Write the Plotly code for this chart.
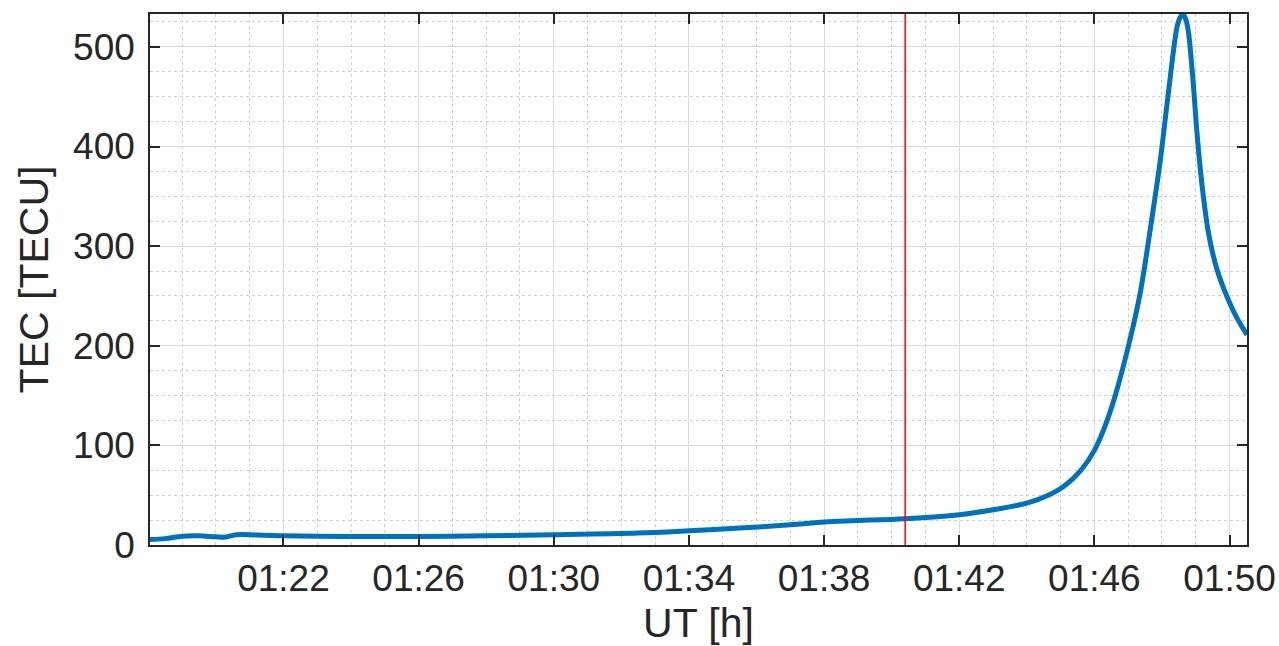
import plotly.graph_objects as go

# Total electron content along the ray path, UT time stamps (HH:MM:SS)
ut_time = [
    "01:18:03", "01:18:30", "01:19:00", "01:19:30", "01:20:00", "01:20:18",
    "01:20:36", "01:21:12", "01:22:00", "01:23:42", "01:26:00", "01:28:00",
    "01:30:00", "01:32:30", "01:34:00", "01:35:30", "01:37:00", "01:38:00",
    "01:38:48", "01:40:24", "01:42:00", "01:43:00", "01:44:00", "01:44:42",
    "01:45:06", "01:45:36", "01:46:00", "01:46:18", "01:46:36", "01:47:04",
    "01:47:22", "01:47:39", "01:47:57", "01:48:11", "01:48:26", "01:48:31",
    "01:48:37", "01:48:42", "01:48:47", "01:48:56", "01:49:02", "01:49:11",
    "01:49:23", "01:49:38", "01:49:55", "01:50:13", "01:50:31",
]
tec_tecu = [
    5.5, 6.4, 8.8, 9.2, 8.2, 8.0,
    10.3, 10.0, 9.3, 8.5, 8.6, 9.3,
    10.3, 12.0, 14.3, 17.0, 20.3, 23.0,
    24.3, 26.4, 30.4, 35.4, 42.0, 51.0,
    59.0, 75.0, 95.0, 118.0, 148.0, 208.0,
    255.0, 316.0, 386.0, 452.0, 518.0, 528.0,
    533.0, 528.0, 515.0, 460.0, 415.0, 362.0,
    312.0, 276.0, 250.0, 228.0, 211.0,
]

# Event marker time
event_time = "01:40:24"

day = "2020-01-01 "
x_vals = [day + t for t in ut_time]

x_range = [day + "01:18:03", day + "01:50:31"]
y_range = [0, 533]
x_tick0 = day + "01:22:00"
x_major_ms = 4 * 60 * 1000
x_minor_ms = 60 * 1000
y_major = 100
y_minor = 25

FONT = "Liberation Sans, Arial, Helvetica, sans-serif"
AX = "#262626"

fig = go.Figure()
fig.add_trace(go.Scatter(
    x=x_vals, y=tec_tecu, mode="lines",
    line=dict(color="#0072BD", width=5, shape="spline", smoothing=0.9),
    hoverinfo="skip", showlegend=False,
))

fig.add_shape(type="line", xref="x", yref="paper",
              x0=day + event_time, x1=day + event_time, y0=0, y1=1,
              line=dict(color="#FF0000", width=1.5), layer="above")

axis_common = dict(
    showline=True, linecolor=AX, linewidth=1.6, mirror="ticks",
    ticks="inside", ticklen=10, tickwidth=1.6, tickcolor=AX,
    showgrid=True, gridcolor="#DCDCDC", gridwidth=1,
    zeroline=False,
    tickfont=dict(family=FONT, size=37, color=AX),
)

fig.update_xaxes(
    type="date", range=x_range, tick0=x_tick0, dtick=x_major_ms,
    tickformat="%H:%M",
    minor=dict(dtick=x_minor_ms, tick0=x_tick0, showgrid=True,
               gridcolor="#CFCFCF", griddash="3px,3px", gridwidth=1, ticks=""),
    title=dict(text="UT [h]", font=dict(family=FONT, size=41, color=AX), standoff=10),
    **axis_common,
)
fig.update_yaxes(
    range=y_range, tick0=0, dtick=y_major,
    minor=dict(dtick=y_minor, tick0=0, showgrid=True,
               gridcolor="#CFCFCF", griddash="3px,3px", gridwidth=1, ticks=""),
    title=dict(text="TEC [TECU]", font=dict(family=FONT, size=41, color=AX), standoff=12),
    ticklabelstandoff=6,
    **axis_common,
)

fig.update_layout(
    width=1279, height=646, autosize=False,
    margin=dict(l=150, r=32, t=14, b=101, autoexpand=False),
    paper_bgcolor="white", plot_bgcolor="white",
)

fig.write_html("out.html")
